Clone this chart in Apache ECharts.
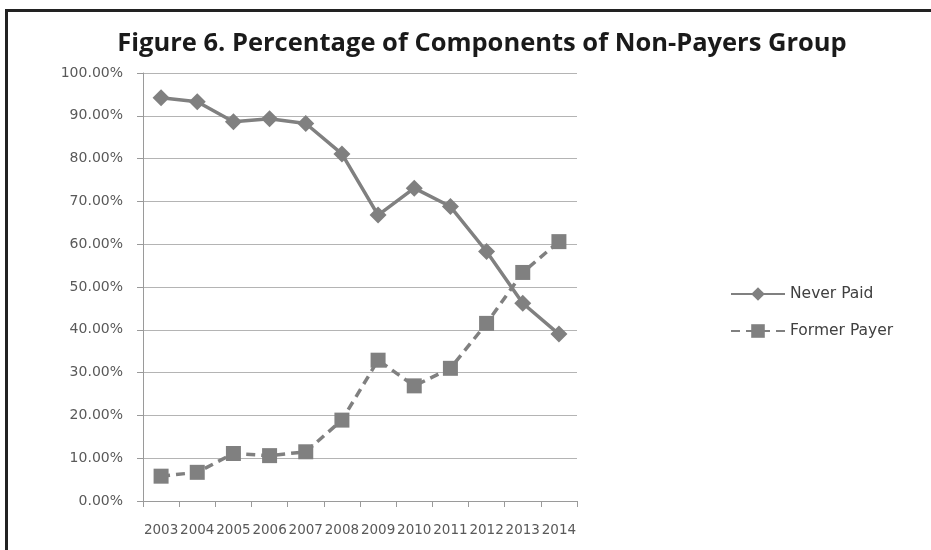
<!DOCTYPE html>
<html>
<head>
<meta charset="utf-8">
<script src="https://cdn.jsdelivr.net/npm/echarts@6/dist/echarts.min.js"></script>
<style>
  html, body { margin: 0; padding: 0; background: #ffffff; }
  #chart { width: 931px; height: 550px; }
</style>
</head>
<body>
<div id="chart"></div>
<script>
// Survey years along the horizontal axis
const years = ['2003', '2004', '2005', '2006', '2007', '2008', '2009', '2010', '2011', '2012', '2013', '2014'];

// Share of the non-payers group, in percent
const neverPaid = [94.2, 93.3, 88.6, 89.3, 88.2, 81.1, 66.8, 73.1, 68.8, 58.3, 46.2, 39.0];
const formerPayer = [5.8, 6.7, 11.1, 10.6, 11.5, 18.9, 32.9, 26.9, 31.0, 41.5, 53.4, 60.6];

const seriesNames = ['Never Paid', 'Former Payer'];
const chartTitle = 'Figure 6. Percentage of Components of Non-Payers Group';

const gray = '#808080';
const textGray = '#595959';

const chart = echarts.init(document.getElementById('chart'), null, { renderer: 'canvas' });

chart.setOption({
  backgroundColor: '#ffffff',
  animation: false,
  title: {
    text: chartTitle,
    left: 477,
    textAlign: 'center',
    top: 26,
    textStyle: {
      fontFamily: 'Open Sans',
      fontWeight: 'bold',
      fontSize: 25.5,
      color: '#1a1a1a'
    }
  },
  graphic: [
    // frame around the figure: top rule and left rule
    { type: 'line', shape: { x1: 5, y1: 10.5, x2: 931, y2: 10.5 }, style: { stroke: '#222222', lineWidth: 3 } },
    { type: 'line', shape: { x1: 6.5, y1: 9, x2: 6.5, y2: 550 }, style: { stroke: '#222222', lineWidth: 3 } }
  ],
  legend: {
    orient: 'vertical',
    left: 725,
    top: 281,
    itemWidth: 54,
    itemHeight: 17,
    itemGap: 21,
    data: seriesNames,
    textStyle: {
      fontFamily: 'DejaVu Sans',
      fontSize: 15.5,
      color: '#404040'
    }
  },
  grid: {
    left: 143,
    top: 73,
    right: 354,
    bottom: 49,
    containLabel: false
  },
  xAxis: {
    type: 'category',
    data: years,
    boundaryGap: true,
    axisLine: { lineStyle: { color: '#9a9a9a', width: 1 } },
    axisTick: { show: true, length: 6, interval: 0, lineStyle: { color: '#9a9a9a' } },
    axisLabel: {
      interval: 0,
      margin: 22,
      fontFamily: 'DejaVu Sans',
      fontSize: 13.5,
      color: textGray
    },
    splitLine: { show: false }
  },
  yAxis: {
    type: 'value',
    min: 0,
    max: 100,
    interval: 10,
    axisLine: { show: true, lineStyle: { color: '#9a9a9a', width: 1 } },
    axisTick: { show: true, length: 6, lineStyle: { color: '#9a9a9a' } },
    axisLabel: {
      margin: 20,
      fontFamily: 'DejaVu Sans',
      fontSize: 14,
      color: textGray,
      formatter: v => v.toFixed(2) + '%'
    },
    splitLine: { show: true, lineStyle: { color: '#b4b4b4', width: 1.2 } }
  },
  series: [
    {
      name: seriesNames[0],
      type: 'line',
      data: neverPaid,
      symbol: 'diamond',
      symbolSize: 17,
      itemStyle: { color: gray },
      lineStyle: { color: gray, width: 3.5, type: 'solid' }
    },
    {
      name: seriesNames[1],
      type: 'line',
      data: formerPayer,
      symbol: 'rect',
      symbolSize: 15,
      itemStyle: { color: gray },
      lineStyle: { color: gray, width: 3.5, type: [9, 6] }
    }
  ]
});
</script>
</body>
</html>
